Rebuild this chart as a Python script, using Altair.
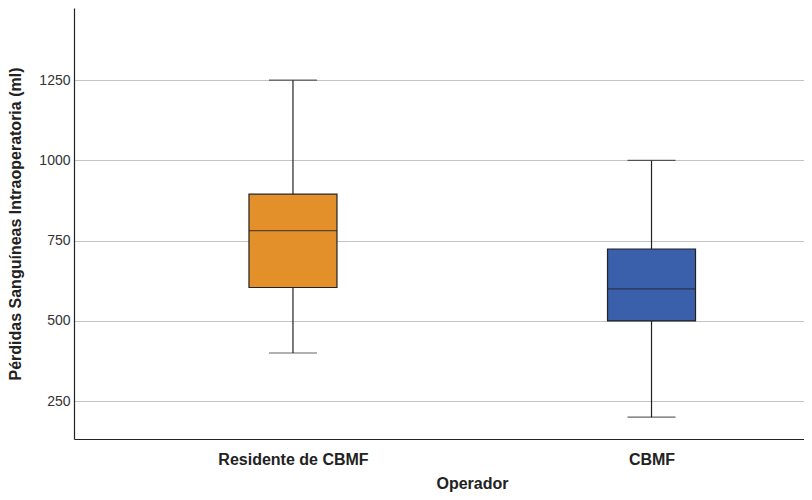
import altair as alt
import pandas as pd

operador = ["Residente de CBMF", "CBMF"]
whisker_low = [400, 200]
q1 = [604, 500]
median = [781, 600]
q3 = [895, 724]
whisker_high = [1250, 1000]
colors = ["#E38F2A", "#3A5FAB"]

df = pd.DataFrame({
    "Operador": operador,
    "low": whisker_low,
    "q1": q1,
    "median": median,
    "q3": q3,
    "high": whisker_high,
})

x = alt.X("Operador:N", sort=operador,
          scale=alt.Scale(type="point", padding=0.518, align=0.5895),
          axis=alt.Axis(title="Operador", labelAngle=0, labelFont="Liberation Sans",
                        labelFontWeight="bold", labelFontSize=16, labelColor="#222",
                        labelPadding=12, ticks=False, domainColor="#222",
                        titleFont="Liberation Sans", titleFontSize=16, titleFontWeight="bold",
                        titleColor="#222", titlePadding=8, titleX=398, grid=False))

yscale = alt.Scale(domain=[132, 1475], nice=False, zero=False)

base = alt.Chart(df)

whisk = base.mark_rule(color="#222", strokeWidth=1.2).encode(
    x=x,
    y=alt.Y("low:Q", scale=yscale,
            axis=alt.Axis(title="Pérdidas Sanguíneas Intraoperatoria (ml)",
                          values=[250, 500, 750, 1000, 1250], ticks=False, format="d",
                          labelFont="Liberation Sans", labelFontSize=14, labelColor="#333",
                          labelPadding=4, domainColor="#222", gridColor="#c4c4c4",
                          titleFont="Liberation Sans", titleFontSize=16, titleFontWeight="bold",
                          titleColor="#222", titlePadding=15)),
    y2="high:Q",
)

box = base.mark_bar(size=88, stroke="#222", strokeWidth=1.2).encode(
    x=x,
    y=alt.Y("q1:Q", scale=yscale),
    y2="q3:Q",
    color=alt.Color("Operador:N", sort=operador,
                    scale=alt.Scale(domain=operador, range=colors), legend=None),
)

med = base.mark_tick(size=88, thickness=1.2, color="#222").encode(
    x=x, y=alt.Y("median:Q", scale=yscale))
cap_hi = base.mark_tick(size=48, thickness=1.2, color="#222").encode(
    x=x, y=alt.Y("high:Q", scale=yscale))
cap_lo = base.mark_tick(size=48, thickness=1.2, color="#222").encode(
    x=x, y=alt.Y("low:Q", scale=yscale))

chart = alt.layer(whisk, box, med, cap_hi, cap_lo).properties(
    width=730, height=431,
    autosize=alt.AutoSizeParams(type="none"),
    padding={"left": 66, "top": 0, "right": 0, "bottom": 53},
).configure_view(stroke=None).configure_axis(domainWidth=1.2)

chart.save("out.html", embed_options={"renderer": "svg", "actions": False})
